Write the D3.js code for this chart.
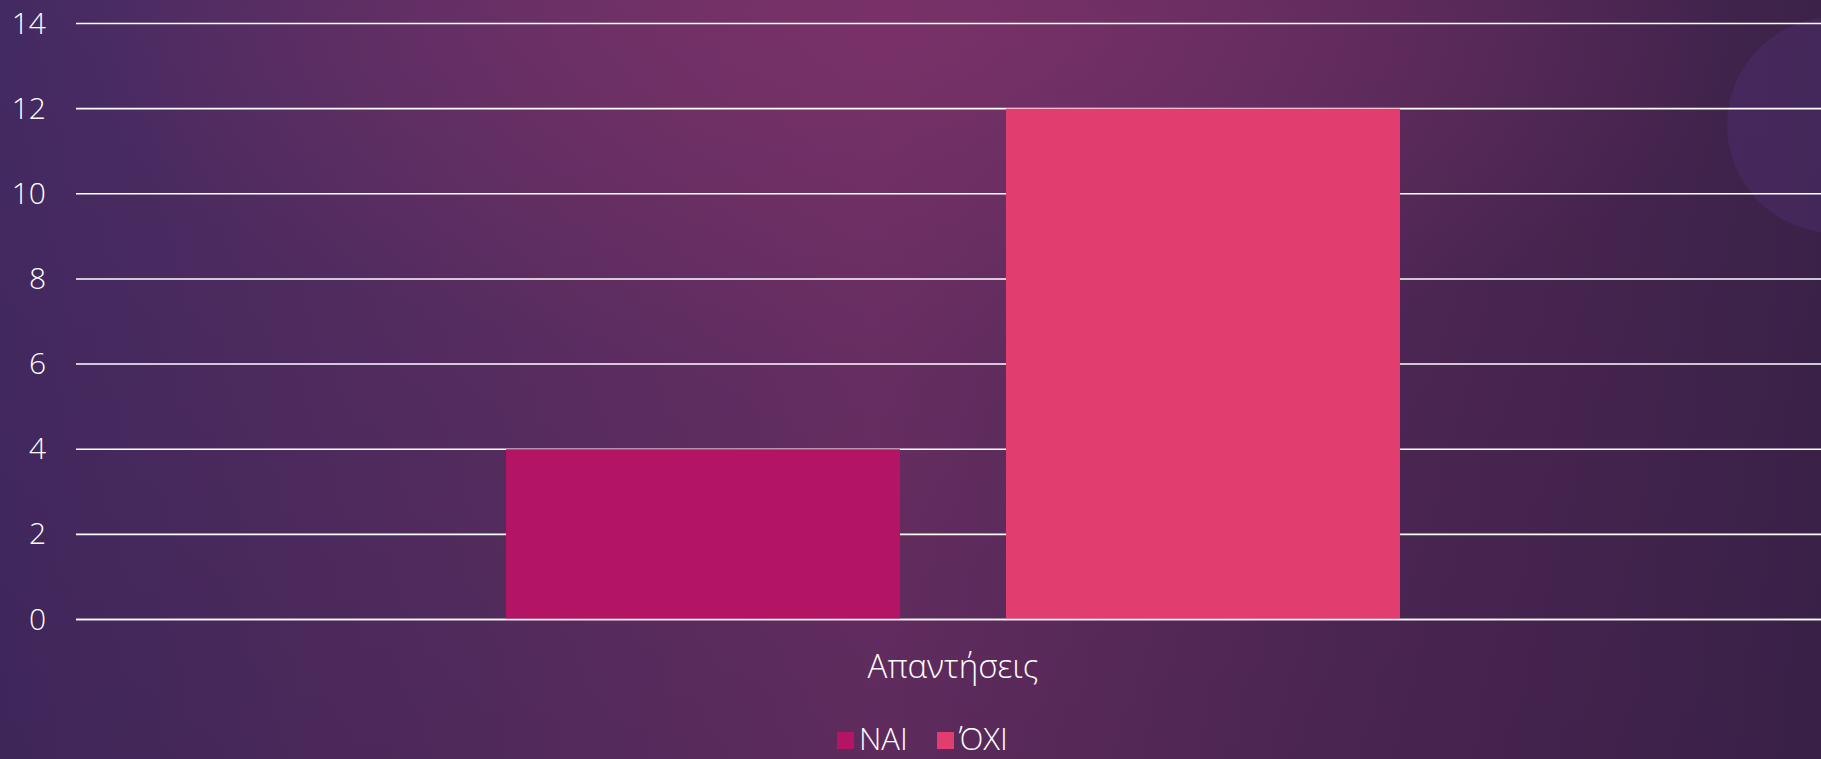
<!DOCTYPE html>
<html>
<head>
<meta charset="utf-8">
<script src="https://cdn.jsdelivr.net/npm/d3@7"></script>
<style>
  html, body { margin: 0; padding: 0; overflow: hidden; }
  svg { display: block; }
  text { font-family: "Open Sans", "Noto Sans", sans-serif; font-weight: 300; fill: #ffffff; }
</style>
</head>
<body>
<div id="chart"></div>
<script>
// chart data
var categories = ["Απαντήσεις"];
var seriesNames = ["ΝΑΙ", "ΌΧΙ"];
var seriesValues = [4, 12];
var seriesColors = ["#b31464", "#e23d6f"];
var yTicks = [0, 2, 4, 6, 8, 10, 12, 14];

var svgWidth = 1821;
var svgHeight = 759;

var margin = { top: 23.5, right: 0, bottom: 139.5, left: 76 };
var height = svgHeight - margin.top - margin.bottom;

var svg = d3.select("#chart")
  .append("svg")
  .attr("width", svgWidth)
  .attr("height", svgHeight);

// background gradients
var defs = svg.append("defs");

var bgLinear = defs.append("linearGradient")
  .attr("id", "bgLinear")
  .attr("x1", "0%").attr("y1", "0%")
  .attr("x2", "100%").attr("y2", "0%");
bgLinear.append("stop").attr("offset", "0%").attr("stop-color", "#442a62");
bgLinear.append("stop").attr("offset", "25%").attr("stop-color", "#592e63");
bgLinear.append("stop").attr("offset", "48%").attr("stop-color", "#6e3066");
bgLinear.append("stop").attr("offset", "75%").attr("stop-color", "#512856");
bgLinear.append("stop").attr("offset", "100%").attr("stop-color", "#3c2249");

var bgGlow = defs.append("radialGradient")
  .attr("id", "bgGlow")
  .attr("cx", "50%").attr("cy", "5%").attr("r", "45%");
bgGlow.append("stop").attr("offset", "0%").attr("stop-color", "#7c3269").attr("stop-opacity", 0.8);
bgGlow.append("stop").attr("offset", "100%").attr("stop-color", "#7c3269").attr("stop-opacity", 0);

var bgBottom = defs.append("linearGradient")
  .attr("id", "bgBottom")
  .attr("x1", "0%").attr("y1", "0%")
  .attr("x2", "0%").attr("y2", "100%");
bgBottom.append("stop").attr("offset", "0%").attr("stop-color", "#2e1a40").attr("stop-opacity", 0);
bgBottom.append("stop").attr("offset", "100%").attr("stop-color", "#2e1a40").attr("stop-opacity", 0.25);

svg.append("rect").attr("width", svgWidth).attr("height", svgHeight).attr("fill", "url(#bgLinear)");
svg.append("rect").attr("width", svgWidth).attr("height", svgHeight).attr("fill", "url(#bgGlow)");
svg.append("rect").attr("width", svgWidth).attr("height", svgHeight).attr("fill", "url(#bgBottom)");

// faint decorative circle on the right
svg.append("circle")
  .attr("cx", 1835)
  .attr("cy", 125)
  .attr("r", 108)
  .attr("fill", "#4b2c68")
  .attr("opacity", 0.6);

var chartGroup = svg.append("g")
  .attr("transform", `translate(0, ${margin.top})`);

// scales
var yScale = d3.scaleLinear()
  .domain([0, 14])
  .range([height, 0]);

var xScale = d3.scaleBand()
  .domain(categories)
  .range([margin.left, 1830])
  .paddingInner(0)
  .paddingOuter(0.481);

var xInner = d3.scaleBand()
  .domain(seriesNames)
  .range([0, xScale.bandwidth()])
  .paddingInner(0.212)
  .paddingOuter(0);

// gridlines
chartGroup.append("g")
  .selectAll("line")
  .data(yTicks)
  .enter()
  .append("line")
  .attr("x1", margin.left)
  .attr("x2", svgWidth)
  .attr("y1", d => yScale(d))
  .attr("y2", d => yScale(d))
  .attr("stroke", "#ffffff")
  .attr("stroke-width", 1.6);

// y axis labels
var leftAxis = d3.axisLeft(yScale)
  .tickValues(yTicks)
  .tickSize(0)
  .tickPadding(0);

var yAxis = chartGroup.append("g")
  .attr("transform", `translate(${margin.left - 30}, 0)`)
  .call(leftAxis);
yAxis.select(".domain").remove();
yAxis.selectAll("text")
  .attr("font-size", "30px")
  .attr("fill", "#ffffff")
  .style("font-family", "\"Open Sans\", \"Noto Sans\", sans-serif")
  .style("font-weight", 300);

// bars
var barData = seriesNames.map((s, i) => ({ name: s, value: seriesValues[i], color: seriesColors[i] }));

chartGroup.append("g")
  .selectAll("rect")
  .data(barData)
  .enter()
  .append("rect")
  .attr("x", d => xScale(categories[0]) + xInner(d.name))
  .attr("y", d => yScale(d.value))
  .attr("width", xInner.bandwidth())
  .attr("height", d => yScale(0) - yScale(d.value))
  .attr("fill", d => d.color);

// baseline over bars
chartGroup.append("line")
  .attr("x1", margin.left)
  .attr("x2", svgWidth)
  .attr("y1", yScale(0))
  .attr("y2", yScale(0))
  .attr("stroke", "#ffffff")
  .attr("stroke-width", 1.6);

// category label
var bottomAxis = d3.axisBottom(xScale).tickSize(0).tickPadding(0);
var xAxis = chartGroup.append("g")
  .attr("transform", `translate(0, ${height + 35})`)
  .call(bottomAxis);
xAxis.select(".domain").remove();
xAxis.selectAll("text")
  .attr("font-size", "33px")
  .attr("fill", "#ffffff")
  .style("font-family", "\"Open Sans\", \"Noto Sans\", sans-serif")
  .style("font-weight", 300);

// legend (kept just inside the bottom edge)
var legend = svg.append("g")
  .attr("transform", "translate(837, 732)");

var legendX = [0, 100];

var legendItems = legend.selectAll("g")
  .data(barData)
  .enter()
  .append("g")
  .attr("transform", (d, i) => `translate(${legendX[i]}, 0)`);

legendItems.append("rect")
  .attr("width", 17)
  .attr("height", 17)
  .attr("fill", d => d.color);

legendItems.append("text")
  .attr("x", 22)
  .attr("y", 18)
  .attr("font-size", "31px")
  .text(d => d.name);
</script>
</body>
</html>
